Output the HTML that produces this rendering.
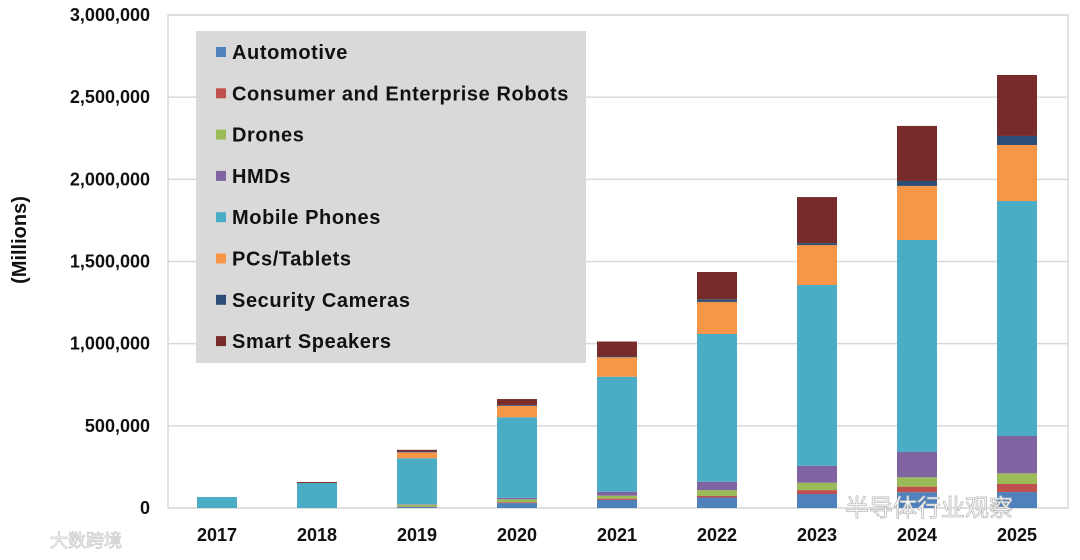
<!DOCTYPE html>
<html><head><meta charset="utf-8"><style>
body{margin:0;background:#fff;}
svg text{font-family:"Liberation Sans","Noto Sans CJK SC",sans-serif;}
</style></head><body>
<svg width="1080" height="555" viewBox="0 0 1080 555">
<g id="grid"></g><g id="bars"></g><g id="axes"></g><g id="legend"></g>
<text x="26" y="240" transform="rotate(-90 26 240)" text-anchor="middle" font-size="20" font-weight="bold" fill="#111">(Millions)</text>
<text x="845" y="516" font-size="24" fill="#fff" stroke="#bbb" stroke-width="0.8">半导体行业观察</text>
<text x="50" y="547" font-size="18" fill="#fff" stroke="#ccc" stroke-width="0.8">大数跨境</text>
</svg>
<script>
const years=["2017","2018","2019","2020","2021","2022","2023","2024","2025"];
const seriesNames=["Automotive","Consumer and Enterprise Robots","Drones","HMDs","Mobile Phones","PCs/Tablets","Security Cameras","Smart Speakers"];
const colors=["#4f81bd","#c0504d","#9bbb59","#8064a2","#4bacc6","#f79646","#2c4d75","#772c2a"];
const automotive=[0,0,6000,30000,49000,64000,85000,96000,97000];
const robots=[0,0,2000,5000,8000,9000,24000,34000,49000];
const drones=[0,0,12000,18000,18000,36000,45000,57000,65000];
const hmds=[0,0,3000,9000,24000,51000,103000,154000,227000];
const mobile=[67000,152000,280000,490000,700000,899000,1100000,1290000,1430000];
const pcs=[0,0,36000,70000,118000,195000,243000,329000,341000];
const cameras=[0,0,5000,5000,5000,16000,12000,30000,55000];
const speakers=[0,6000,10000,36000,91000,166000,280000,335000,371000];
const series=[automotive,robots,drones,hmds,mobile,pcs,cameras,speakers];
const yTicks=[0,500000,1000000,1500000,2000000,2500000,3000000];
const NS="http://www.w3.org/2000/svg";
const L=168,R=1068,T=15,B=508,maxV=3000000;
const y=v=>B-(v/maxV)*(B-T);
const band=(R-L)/years.length;
const xc=i=>L+band*(i+0.5)-1;
function mk(t,a,p){const e=document.createElementNS(NS,t);for(const k in a)e.setAttribute(k,a[k]);p.appendChild(e);return e;}
const grid=document.getElementById('grid'),bars=document.getElementById('bars'),axes=document.getElementById('axes'),leg=document.getElementById('legend');
yTicks.forEach(v=>{
 const ln=mk('line',{x1:L,x2:R,y1:y(v),y2:y(v),stroke:'#d9d9d9','stroke-width':1.5},grid);
 
 
 const t=mk('text',{x:150,y:y(v)+6,'text-anchor':'end','font-size':18,'font-weight':'bold',fill:'#111'},axes);
 t.textContent=v.toLocaleString('en-US');
 
 
});
const fr=mk('rect',{x:L,y:T,width:R-L,height:B-T,fill:'none',stroke:'#d9d9d9','stroke-width':1.5},grid);


years.forEach((yr,i)=>{
 let acc=0;
 series.forEach((s,j)=>{
  const v=s[i]; if(v<=0) return;
  const r=mk('rect',{x:xc(i)-20,width:40,y:y(acc+v),height:y(acc)-y(acc+v),fill:colors[j]},bars);
  
  
  acc+=v;
 });
 const t=mk('text',{x:xc(i),y:541,'text-anchor':'middle','font-size':18,'font-weight':'bold',fill:'#111'},axes);
 t.textContent=yr;
 
 
});
const lb=mk('rect',{x:196,y:31,width:390,height:332,fill:'#d9d9d9'},leg);


seriesNames.forEach((n,j)=>{
 const yy=52+j*41.3;
 const sq=mk('rect',{x:216,y:yy-5,width:10,height:10,fill:colors[j]},leg);
 
 
 const t=mk('text',{x:232,y:yy+7,'font-size':20,'font-weight':'bold',fill:'#111','letter-spacing':0.6},leg);
 t.textContent=n;
 
 
});
</script>
</body></html>
